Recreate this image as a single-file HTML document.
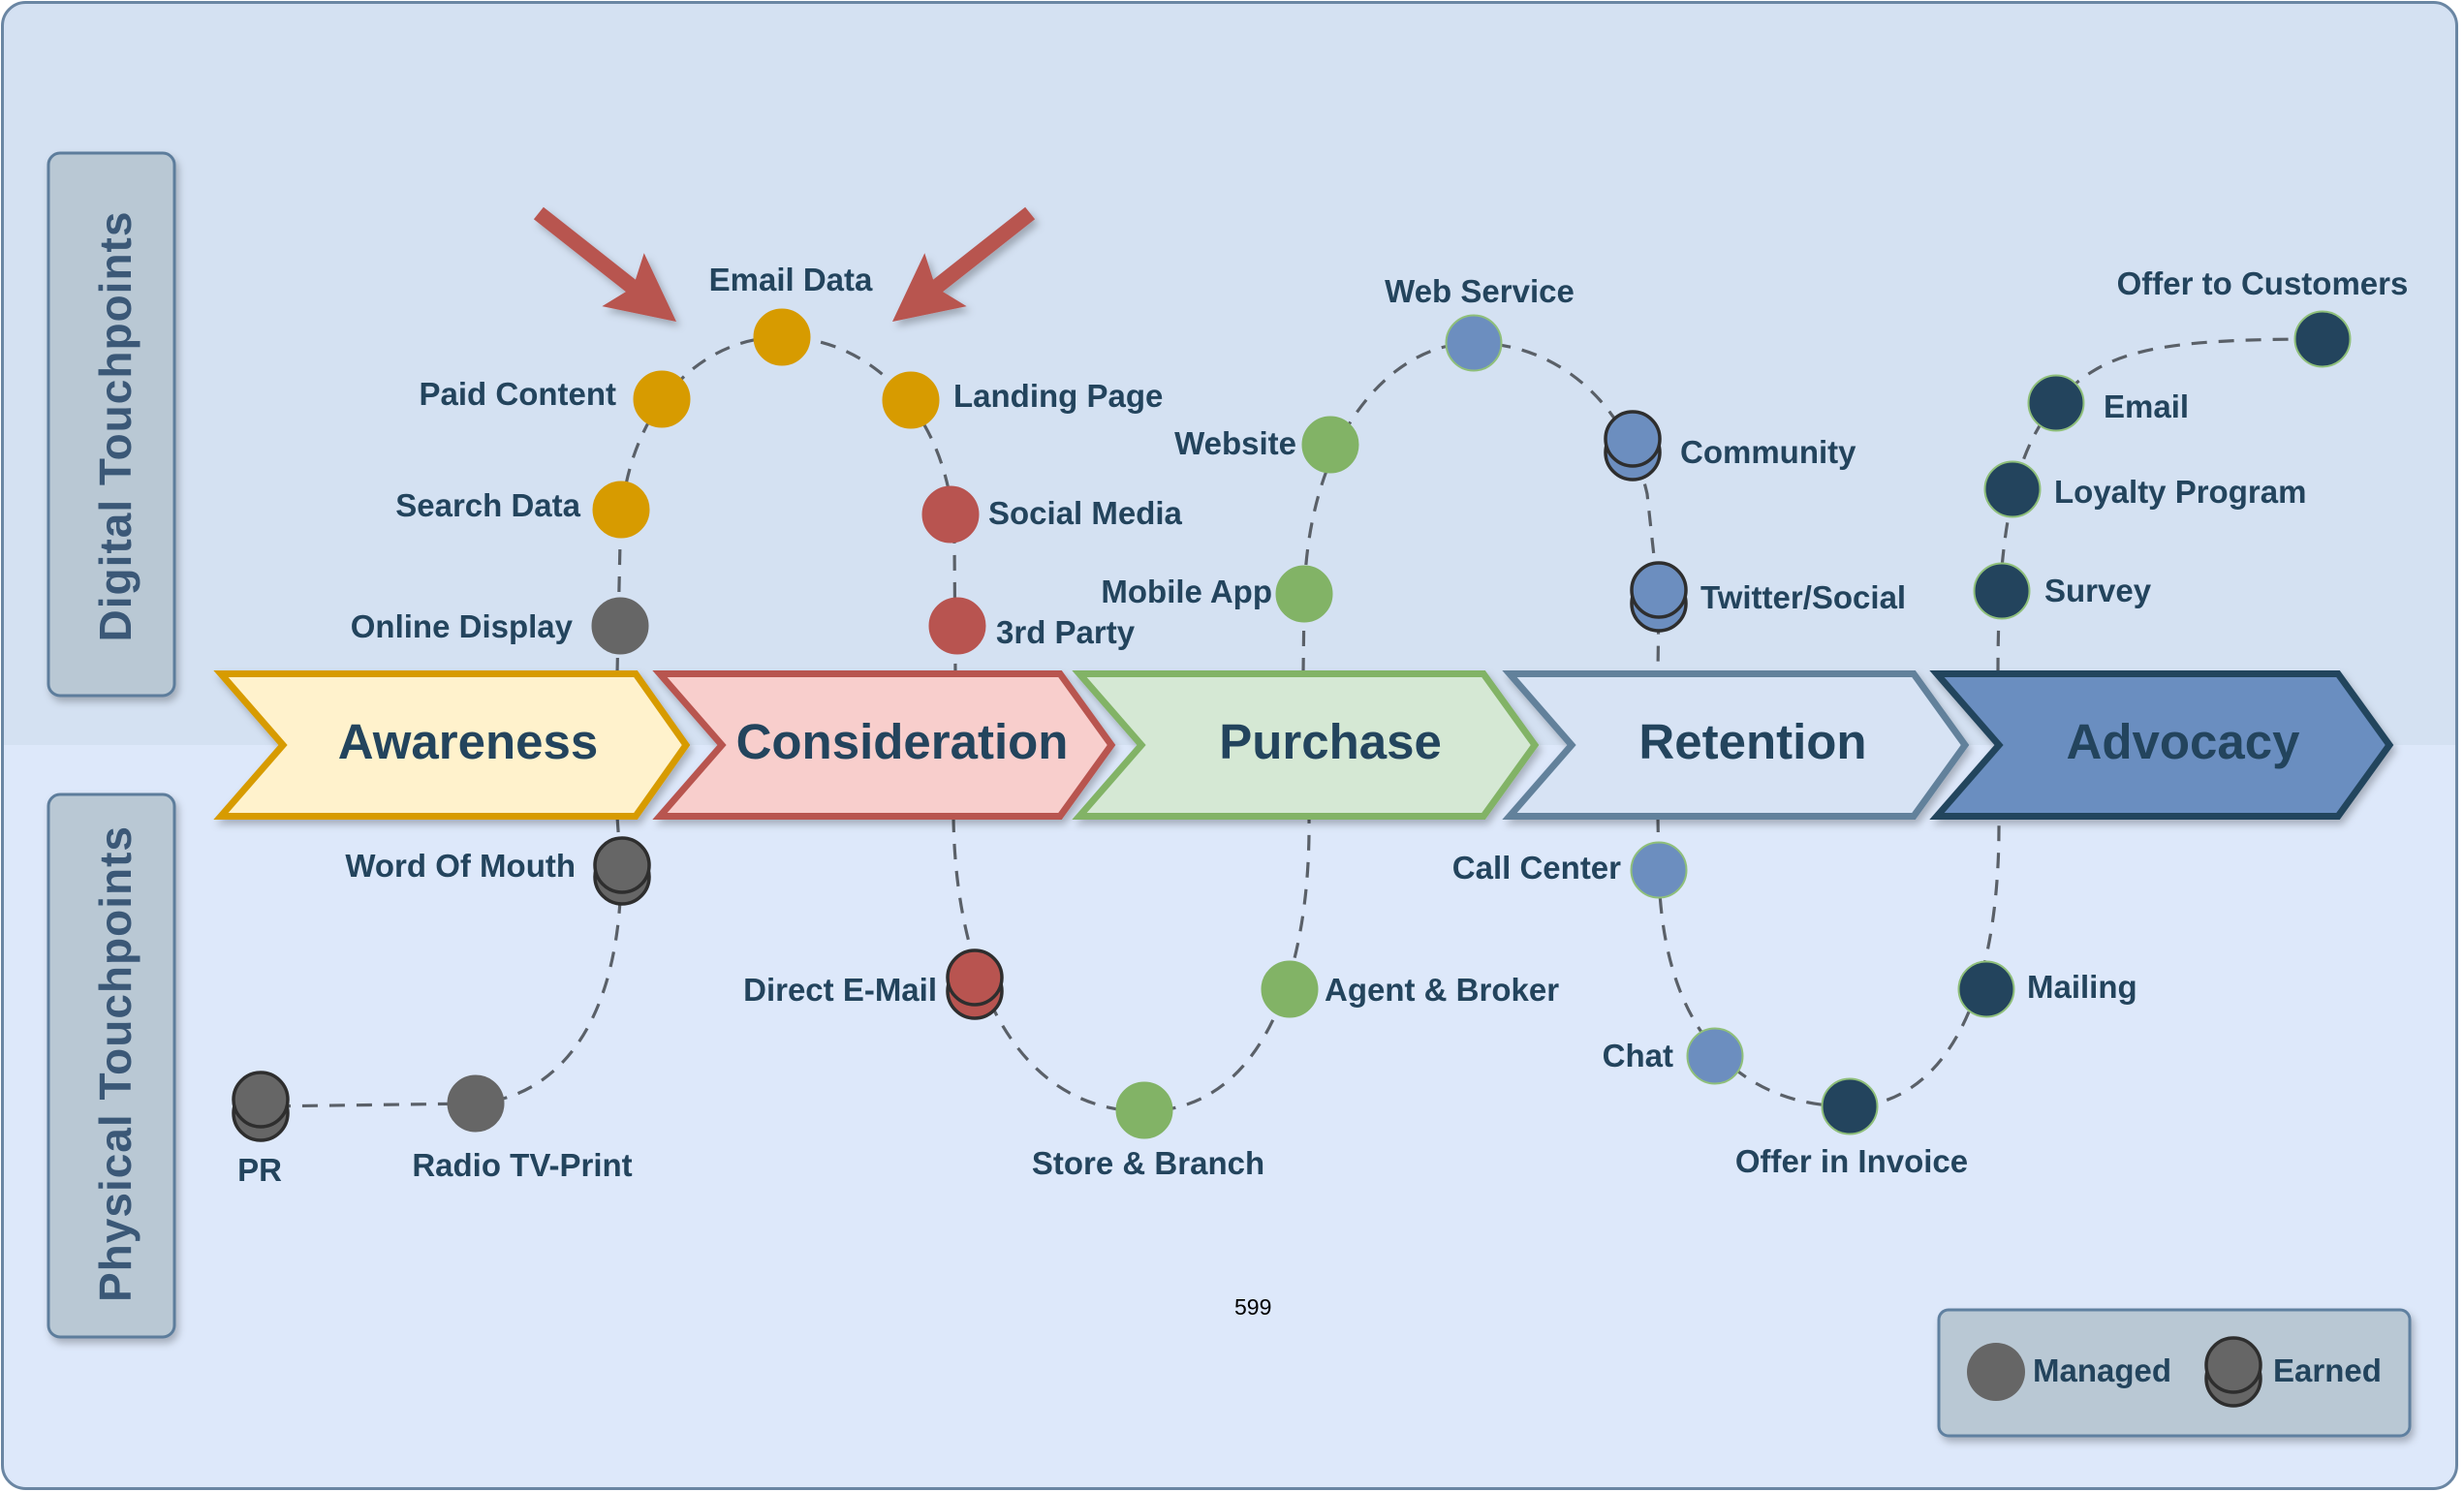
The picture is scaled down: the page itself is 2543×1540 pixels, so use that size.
<!DOCTYPE html>
<html>
<head>
<meta charset="utf-8">
<style>
html,body{margin:0;padding:0;background:#ffffff;}
body{width:2543px;height:1540px;overflow:hidden;}
svg{display:block;}
.lbl{font-family:"Liberation Sans",Arial,sans-serif;font-weight:bold;font-size:33px;fill:#23445d;}
.chv{font-family:"Liberation Sans",Arial,sans-serif;font-weight:bold;font-size:51px;fill:#23445d;text-anchor:middle;}
.side{font-family:"Liberation Sans",Arial,sans-serif;font-weight:bold;font-size:46px;letter-spacing:1px;fill:#3b5877;text-anchor:middle;}
.dash{fill:none;stroke:#5a6068;stroke-width:3.2;stroke-dasharray:16 12;}
</style>
</head>
<body>
<svg width="2543" height="1540" viewBox="0 0 2543 1540" xmlns="http://www.w3.org/2000/svg">
  <defs>
    <clipPath id="frame">
      <rect x="2.5" y="2.5" width="2533" height="1534" rx="24" ry="24"/>
    </clipPath>
    <filter id="sh" x="-10%" y="-10%" width="130%" height="140%">
      <feDropShadow dx="3" dy="5" stdDeviation="4" flood-color="#000" flood-opacity="0.25"/>
    </filter>
    <filter id="sh2" x="-20%" y="-20%" width="150%" height="150%">
      <feDropShadow dx="4" dy="5" stdDeviation="4" flood-color="#000" flood-opacity="0.25"/>
    </filter>
  </defs>

  <!-- background -->
  <g clip-path="url(#frame)">
    <rect x="0" y="0" width="2543" height="769" fill="#d4e1f2"/>
    <rect x="0" y="769" width="2543" height="780" fill="#dde8fa"/>
  </g>
  <rect x="2.5" y="2.5" width="2533" height="1534" rx="24" ry="24" fill="none" stroke="#6a86a3" stroke-width="3"/>

  <!-- side boxes -->
  <rect x="50" y="158" width="130" height="560" rx="12" ry="12" fill="#b9c8d4" stroke="#5d7d9c" stroke-width="3" filter="url(#sh)"/>
  <text class="side" transform="translate(135,440) rotate(-90)">Digital Touchpoints</text>
  <rect x="50" y="820" width="130" height="560" rx="12" ry="12" fill="#b9c8d4" stroke="#5d7d9c" stroke-width="3" filter="url(#sh)"/>
  <text class="side" transform="translate(135,1098) rotate(-90)">Physical Touchpoints</text>

  <!-- dashed connectors -->
  <path class="dash" d="M637,695 L640,560 C640,430 718,348 807,348 C900,348 983,430 985,560 L986,695"/>
  <path class="dash" d="M637,843 L641,900 C640,1050 580,1132 491,1139 L269,1142"/>
  <path class="dash" d="M984,843 C986,1010 1050,1147 1181,1147 C1300,1147 1353,1010 1351,843"/>
  <path class="dash" d="M1345,695 L1346,620 C1348,450 1435,354 1521,354 C1610,354 1680,420 1700,510 L1712,620 L1711,695"/>
  <path class="dash" d="M1711,843 L1712,900 C1716,1070 1800,1142 1909,1142 C1990,1142 2065,1060 2063,843"/>
  <path class="dash" d="M2062,695 C2062,560 2075,470 2122,416 C2170,360 2230,350 2397,350"/>

  <!-- chevrons -->
  <g stroke-width="7" stroke-linejoin="miter" stroke-miterlimit="10" filter="url(#sh)">
    <polygon points="228,695.5 656,695.5 708,769 656,842.5 228,842.5 292,769" fill="#fff2cc" stroke="#d79b00"/>
    <polygon points="681,695.5 1094,695.5 1147,769 1094,842.5 681,842.5 745,769" fill="#f8cecc" stroke="#b85450"/>
    <polygon points="1114,695.5 1531,695.5 1584,769 1531,842.5 1114,842.5 1178,769" fill="#d5e8d4" stroke="#82b366"/>
    <polygon points="1558,695.5 1975,695.5 2028,769 1975,842.5 1558,842.5 1622,769" fill="#d7e3f4" stroke="#62819b"/>
    <polygon points="1999,695.5 2413,695.5 2466,769 2413,842.5 1999,842.5 2063,769" fill="#6a8ec0" stroke="#23445d"/>
  </g>
  <text class="chv" x="483" y="783">Awareness</text>
  <text class="chv" x="931" y="783">Consideration</text>
  <text class="chv" x="1373" y="783">Purchase</text>
  <text class="chv" x="1809" y="783">Retention</text>
  <text class="chv" x="2253" y="783">Advocacy</text>

  <!-- red arrows -->
  <g fill="#b85450" filter="url(#sh2)">
    <polygon points="698,332 621.4,316.1 645.9,301.1 550.9,226.3 560.9,213.7 655.9,288.6 664.7,261.2"/>
    <polygon points="921,332 997.6,316.1 973.1,301.1 1068.1,226.3 1058.1,213.7 963.1,288.6 954.3,261.2"/>
  </g>

  <!-- managed nodes -->
  <g stroke-width="2">
    <circle cx="807" cy="348" r="28.5" fill="#d79b00" stroke="#d79b00"/>
    <circle cx="683" cy="412" r="28.5" fill="#d79b00" stroke="#d79b00"/>
    <circle cx="940" cy="413" r="28.5" fill="#d79b00" stroke="#d79b00"/>
    <circle cx="641" cy="526" r="28.5" fill="#d79b00" stroke="#d79b00"/>
    <circle cx="640" cy="646" r="28.5" fill="#666666" stroke="#666666"/>
    <circle cx="491" cy="1139" r="28.5" fill="#666666" stroke="#666666"/>
    <circle cx="981" cy="531" r="28.5" fill="#b85450" stroke="#b85450"/>
    <circle cx="988" cy="646" r="28.5" fill="#b85450" stroke="#b85450"/>
    <circle cx="1373" cy="459" r="28.5" fill="#82b366" stroke="#82b366"/>
    <circle cx="1346" cy="613" r="28.5" fill="#82b366" stroke="#82b366"/>
    <circle cx="1181" cy="1146" r="28.5" fill="#82b366" stroke="#82b366"/>
    <circle cx="1331" cy="1021" r="28.5" fill="#82b366" stroke="#82b366"/>
    <circle cx="1521" cy="354" r="28.5" fill="#6c8ebf" stroke="#8fbf7a"/>
    <circle cx="1712" cy="898" r="28.5" fill="#6c8ebf" stroke="#8fbf7a"/>
    <circle cx="1770" cy="1090" r="28.5" fill="#6c8ebf" stroke="#8fbf7a"/>
    <circle cx="2397" cy="350" r="28.5" fill="#23445d" stroke="#8fbf7a"/>
    <circle cx="2122" cy="416" r="28.5" fill="#23445d" stroke="#8fbf7a"/>
    <circle cx="2077" cy="505" r="28.5" fill="#23445d" stroke="#8fbf7a"/>
    <circle cx="2066" cy="610" r="28.5" fill="#23445d" stroke="#8fbf7a"/>
    <circle cx="1909" cy="1142" r="28.5" fill="#23445d" stroke="#8fbf7a"/>
    <circle cx="2050" cy="1021" r="28.5" fill="#23445d" stroke="#8fbf7a"/>
  </g>

  <!-- earned nodes (stacked) -->
  <g stroke="#2e2e2e" stroke-width="3.5">
    <circle cx="1685" cy="467" r="28" fill="#6c8ebf"/>
    <circle cx="1685" cy="453" r="28" fill="#6c8ebf"/>
    <circle cx="1712" cy="623" r="28" fill="#6c8ebf"/>
    <circle cx="1712" cy="609" r="28" fill="#6c8ebf"/>
    <circle cx="642" cy="905" r="28" fill="#666666"/>
    <circle cx="642" cy="893" r="28" fill="#666666"/>
    <circle cx="269" cy="1149" r="28" fill="#666666"/>
    <circle cx="269" cy="1135" r="28" fill="#666666"/>
    <circle cx="1006" cy="1023" r="28" fill="#b85450"/>
    <circle cx="1006" cy="1009" r="28" fill="#b85450"/>
  </g>

  <!-- labels -->
  <text class="lbl" x="816" y="300" text-anchor="middle">Email Data</text>
  <text class="lbl" x="636" y="418" text-anchor="end">Paid Content</text>
  <text class="lbl" x="984" y="420">Landing Page</text>
  <text class="lbl" x="599" y="533" text-anchor="end">Search Data</text>
  <text class="lbl" x="591" y="658" text-anchor="end">Online Display</text>
  <text class="lbl" x="1020" y="541">Social Media</text>
  <text class="lbl" x="1028" y="664">3rd Party</text>
  <text class="lbl" x="1338" y="469" text-anchor="end">Website</text>
  <text class="lbl" x="1313" y="622" text-anchor="end">Mobile App</text>
  <text class="lbl" x="1527" y="312" text-anchor="middle">Web Service</text>
  <text class="lbl" x="1734" y="478">Community</text>
  <text class="lbl" x="1755" y="628">Twitter/Social</text>
  <text class="lbl" x="2335" y="304" text-anchor="middle">Offer to Customers</text>
  <text class="lbl" x="2171" y="431">Email</text>
  <text class="lbl" x="2120" y="519">Loyalty Program</text>
  <text class="lbl" x="2110" y="621">Survey</text>

  <text class="lbl" x="594" y="905" text-anchor="end">Word Of Mouth</text>
  <text class="lbl" x="539" y="1214" text-anchor="middle">Radio TV-Print</text>
  <text class="lbl" x="268" y="1219" text-anchor="middle">PR</text>
  <text class="lbl" x="967" y="1033" text-anchor="end">Direct E-Mail</text>
  <text class="lbl" x="1185" y="1212" text-anchor="middle">Store &amp; Branch</text>
  <text class="lbl" x="1367" y="1033">Agent &amp; Broker</text>
  <text class="lbl" x="1673" y="907" text-anchor="end">Call Center</text>
  <text class="lbl" x="1727" y="1101" text-anchor="end">Chat</text>
  <text class="lbl" x="1911" y="1210" text-anchor="middle">Offer in Invoice</text>
  <text class="lbl" x="2092" y="1030">Mailing</text>

  <!-- page number -->
  <text x="1274" y="1357" font-family="'Liberation Sans',Arial,sans-serif" font-size="23" fill="#000000">599</text>

  <!-- legend -->
  <rect x="2001" y="1352" width="486" height="130" rx="10" ry="10" fill="#b9c8d4" stroke="#5f80a0" stroke-width="3" filter="url(#sh)"/>
  <circle cx="2060" cy="1416" r="30" fill="#666666"/>
  <text class="lbl" x="2098" y="1426">Managed</text>
  <g stroke="#2e2e2e" stroke-width="3.5" fill="#666666">
    <circle cx="2305" cy="1423" r="28"/>
    <circle cx="2305" cy="1409" r="28"/>
  </g>
  <text class="lbl" x="2346" y="1426">Earned</text>
</svg>
</body>
</html>
